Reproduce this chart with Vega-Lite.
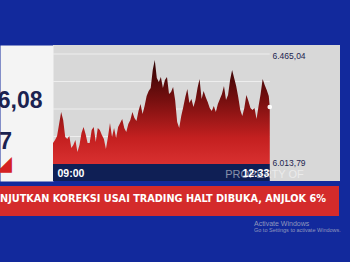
{
  "$schema": "https://vega.github.io/schema/vega-lite/v6.json",
  "autosize": "none",
  "width": 287,
  "height": 136,
  "padding": {"left": 53, "top": 45, "right": 10, "bottom": 81},
  "background": "#12299c",
  "title": {
    "text": "Activate Windows",
    "subtitle": "Go to Settings to activate Windows.",
    "anchor": "start",
    "frame": "group",
    "orient": "top",
    "dx": 201,
    "dy": 188,
    "offset": 0,
    "font": "Liberation Sans",
    "fontSize": 7,
    "fontWeight": "normal",
    "color": "#8f97bd",
    "subtitleFont": "Liberation Sans",
    "subtitleFontSize": 5.5,
    "subtitleColor": "#8f97bd",
    "subtitlePadding": 1
  },
  "data": {
    "values": [
      {"t": "09:00", "v": 6099.9}, {"t": "09:02", "v": 6112.3}, {"t": "09:04", "v": 6128.7}, {"t": "09:06", "v": 6177.9},
      {"t": "09:08", "v": 6227.1}, {"t": "09:10", "v": 6194.3}, {"t": "09:12", "v": 6124.6}, {"t": "09:14", "v": 6116.4},
      {"t": "09:16", "v": 6128.7}, {"t": "09:18", "v": 6079.4}, {"t": "09:20", "v": 6091.8}, {"t": "09:22", "v": 6112.3},
      {"t": "09:24", "v": 6063.0}, {"t": "09:26", "v": 6091.8}, {"t": "09:28", "v": 6141.0}, {"t": "09:30", "v": 6165.6},
      {"t": "09:32", "v": 6136.9}, {"t": "09:34", "v": 6099.9}, {"t": "09:36", "v": 6099.9}, {"t": "09:38", "v": 6153.3},
      {"t": "09:40", "v": 6165.6}, {"t": "09:42", "v": 6104.1}, {"t": "09:44", "v": 6161.5}, {"t": "09:46", "v": 6153.3},
      {"t": "09:48", "v": 6132.8}, {"t": "09:50", "v": 6116.4}, {"t": "09:52", "v": 6075.4}, {"t": "09:54", "v": 6124.6},
      {"t": "09:56", "v": 6182.0}, {"t": "09:58", "v": 6124.6}, {"t": "10:00", "v": 6161.5}, {"t": "10:02", "v": 6120.5},
      {"t": "10:04", "v": 6165.6}, {"t": "10:06", "v": 6182.0}, {"t": "10:08", "v": 6198.4}, {"t": "10:10", "v": 6161.5},
      {"t": "10:12", "v": 6145.1}, {"t": "10:14", "v": 6177.9}, {"t": "10:16", "v": 6194.3}, {"t": "10:18", "v": 6227.1},
      {"t": "10:20", "v": 6202.5}, {"t": "10:22", "v": 6190.2}, {"t": "10:24", "v": 6231.2}, {"t": "10:26", "v": 6259.9},
      {"t": "10:28", "v": 6218.9}, {"t": "10:30", "v": 6251.7}, {"t": "10:32", "v": 6292.7}, {"t": "10:34", "v": 6313.3},
      {"t": "10:36", "v": 6325.6}, {"t": "10:38", "v": 6399.4}, {"t": "10:40", "v": 6440.0}, {"t": "10:42", "v": 6366.6},
      {"t": "10:44", "v": 6350.2}, {"t": "10:46", "v": 6370.7}, {"t": "10:48", "v": 6325.6}, {"t": "10:50", "v": 6358.4},
      {"t": "10:52", "v": 6370.7}, {"t": "10:54", "v": 6301.0}, {"t": "10:56", "v": 6309.2}, {"t": "10:58", "v": 6329.7},
      {"t": "11:00", "v": 6276.4}, {"t": "11:02", "v": 6186.1}, {"t": "11:04", "v": 6161.5}, {"t": "11:06", "v": 6210.7},
      {"t": "11:08", "v": 6247.6}, {"t": "11:10", "v": 6288.6}, {"t": "11:12", "v": 6321.5}, {"t": "11:14", "v": 6264.0},
      {"t": "11:16", "v": 6280.5}, {"t": "11:18", "v": 6247.6}, {"t": "11:20", "v": 6276.4}, {"t": "11:22", "v": 6325.6},
      {"t": "11:24", "v": 6362.5}, {"t": "11:26", "v": 6280.5}, {"t": "11:28", "v": 6313.3}, {"t": "11:30", "v": 6288.6},
      {"t": "11:32", "v": 6268.2}, {"t": "11:34", "v": 6243.5}, {"t": "11:36", "v": 6231.2}, {"t": "11:38", "v": 6251.7},
      {"t": "11:40", "v": 6227.1}, {"t": "11:42", "v": 6259.9}, {"t": "11:44", "v": 6280.5}, {"t": "11:46", "v": 6301.0},
      {"t": "11:48", "v": 6333.8}, {"t": "11:50", "v": 6276.4}, {"t": "11:52", "v": 6296.9}, {"t": "11:54", "v": 6358.4},
      {"t": "11:56", "v": 6399.4}, {"t": "11:58", "v": 6366.6}, {"t": "12:00", "v": 6333.8}, {"t": "12:02", "v": 6288.6},
      {"t": "12:04", "v": 6235.3}, {"t": "12:06", "v": 6210.7}, {"t": "12:08", "v": 6243.5}, {"t": "12:10", "v": 6296.9},
      {"t": "12:12", "v": 6272.3}, {"t": "12:14", "v": 6243.5}, {"t": "12:16", "v": 6235.3}, {"t": "12:18", "v": 6243.5},
      {"t": "12:20", "v": 6198.4}, {"t": "12:22", "v": 6251.7}, {"t": "12:24", "v": 6301.0}, {"t": "12:26", "v": 6362.5},
      {"t": "12:28", "v": 6337.9}, {"t": "12:30", "v": 6317.4}, {"t": "12:32", "v": 6292.7}, {"t": "12:33", "v": 6247.6}
    ],
    "format": {"parse": {"t": "date:'%H:%M'"}}
  },
  "resolve": {"axis": {"y": "independent"}},
  "layer": [
    {
      "data": {"values": [{"g": 6465.04}, {"g": 6352.2}, {"g": 6239.4}, {"g": 6126.6}]},
      "mark": {"type": "rule", "color": "#eeeeee", "strokeWidth": 1},
      "encoding": {
        "y": {"field": "g", "type": "quantitative", "scale": {"domain": [5944.0, 6501.96], "zero": false, "nice": false}, "axis": null},
        "x": {"datum": {"year": 1900, "month": 1, "date": 1, "hours": 9, "minutes": 0}, "type": "temporal"},
        "x2": {"datum": {"year": 1900, "month": 1, "date": 1, "hours": 12, "minutes": 33}}
      }
    },
    {
      "mark": {"type": "area"},
      "encoding": {
        "x": {"field": "t", "type": "temporal"},
        "y": {
          "datum": 6013.79, "type": "quantitative",
          "scale": {"domain": [5944.0, 6501.96], "zero": false, "nice": false},
          "axis": {
            "orient": "left", "offset": 26.5, "title": null, "zindex": 0,
            "domainWidth": 53, "domainColor": "#f4f4f4", "domainCap": "butt",
            "ticks": false, "grid": false, "labels": false
          }
        },
        "y2": {"datum": 5944.0},
        "fill": {
          "datum": "band",
          "scale": {"range": ["#0f1f55"]},
          "legend": {
            "orient": "none", "legendX": -65, "legendY": 141,
            "title": "NJUTKAN KOREKSI USAI TRADING HALT DIBUKA, ANJLOK 6%",
            "titleOrient": "left", "titleFont": "DejaVu Sans Condensed, DejaVu Sans, sans-serif", "titleFontSize": 10.8,
            "titleFontWeight": "bold", "titleColor": "#ffffff", "titleLimit": 1000, "titlePadding": 0,
            "fillColor": "#d42b2b", "padding": 12,
            "symbolSize": 1, "symbolOpacity": 0, "symbolStrokeWidth": 0,
            "labelExpr": "''", "labelFontSize": 1, "labelOffset": 0
          }
        }
      }
    },
    {
      "mark": {
        "type": "area",
        "color": {
          "x1": 0, "y1": 0, "x2": 0, "y2": 1, "gradient": "linear",
          "stops": [
            {"offset": 0, "color": "#2e0404"},
            {"offset": 0.4, "color": "#7a1010"},
            {"offset": 0.75, "color": "#c42020"},
            {"offset": 1, "color": "#d93030"}
          ]
        }
      },
      "encoding": {
        "x": {
          "field": "t", "type": "temporal",
          "scale": {"domain": [
            {"year": 1900, "month": 1, "date": 1, "hours": 9, "minutes": 0},
            {"year": 1900, "month": 1, "date": 1, "hours": 13, "minutes": 42}
          ]},
          "axis": {
            "zindex": 1,
            "values": [
              {"year": 1900, "month": 1, "date": 1, "hours": 9, "minutes": 0},
              {"year": 1900, "month": 1, "date": 1, "hours": 12, "minutes": 33}
            ],
            "format": "%H:%M", "domain": false, "ticks": false, "grid": false,
            "labelColor": "#ffffff", "labelFont": "Liberation Sans", "labelFontSize": 10.5, "labelFontWeight": "bold",
            "labelBaseline": "middle", "labelPadding": -8, "labelFlush": false, "labelOverlap": false,
            "labelAlign": {"condition": {"test": "hours(datum.value) < 10", "value": "left"}, "value": "right"},
            "labelOffset": {"condition": {"test": "hours(datum.value) < 10", "value": 4}, "value": -1},
            "title": "PROPERTY OF", "titleColor": "#ffffff", "titleOpacity": 0.5, "titleFont": "Liberation Sans",
            "titleFontSize": 11, "titleFontWeight": "normal", "titleX": 211, "titleY": -7,
            "titleBaseline": "middle", "titleAlign": "center"
          }
        },
        "y": {
          "field": "v", "type": "quantitative",
          "scale": {"domain": [5944.0, 6501.96], "zero": false, "nice": false},
          "axis": {
            "orient": "right", "offset": -68, "title": null,
            "values": [6013.79, 6465.04],
            "labelExpr": "replace(replace(replace(format(datum.value, ',.2f'), ',', '_'), '.', ','), '_', '.')",
            "domain": false, "ticks": false, "grid": false,
            "labelAlign": "left", "labelPadding": 0, "labelBaseline": "middle",
            "labelFont": "Liberation Sans", "labelFontSize": 8.5, "labelColor": "#1c2450",
            "labelFlush": false, "labelOverlap": false,
            "labelOffset": {"condition": {"test": "datum.value > 6400", "value": 1.5}, "value": -1.5}
          }
        },
        "y2": {"datum": 6013.79}
      }
    },
    {
      "transform": [{"filter": "hours(datum.t) == 12 && minutes(datum.t) == 33"}],
      "mark": {"type": "circle", "color": "#ffffff", "size": 22, "opacity": 0.95},
      "encoding": {
        "x": {"field": "t", "type": "temporal"},
        "y": {
          "field": "v", "type": "quantitative",
          "scale": {"domain": [5944.0, 6501.96], "zero": false, "nice": false},
          "axis": {
            "orient": "left", "offset": 26.5, "title": null, "zindex": 2,
            "domain": false, "ticks": false, "grid": false,
            "values": [6274.3, 6108.1, 6015.5],
            "labelExpr": "datum.value > 6200 ? '6.076,08' : (datum.value > 6050 ? '257' : '◢')",
            "labelAlign": "right", "labelBaseline": "middle",
            "labelFont": "Liberation Sans", "labelFontWeight": "bold",
            "labelFontSize": {"condition": {"test": "datum.value < 6050", "value": 19}, "value": 23},
            "labelColor": {"condition": {"test": "datum.value < 6050", "value": "#d42222"}, "value": "#1b2250"},
            "labelPadding": {"condition": {"test": "datum.value > 6200", "value": -15.5}, "value": 15},
            "labelOverlap": false
          }
        }
      }
    }
  ],
  "config": {
    "view": {"fill": "#d8d8d8", "stroke": null}
  }
}
